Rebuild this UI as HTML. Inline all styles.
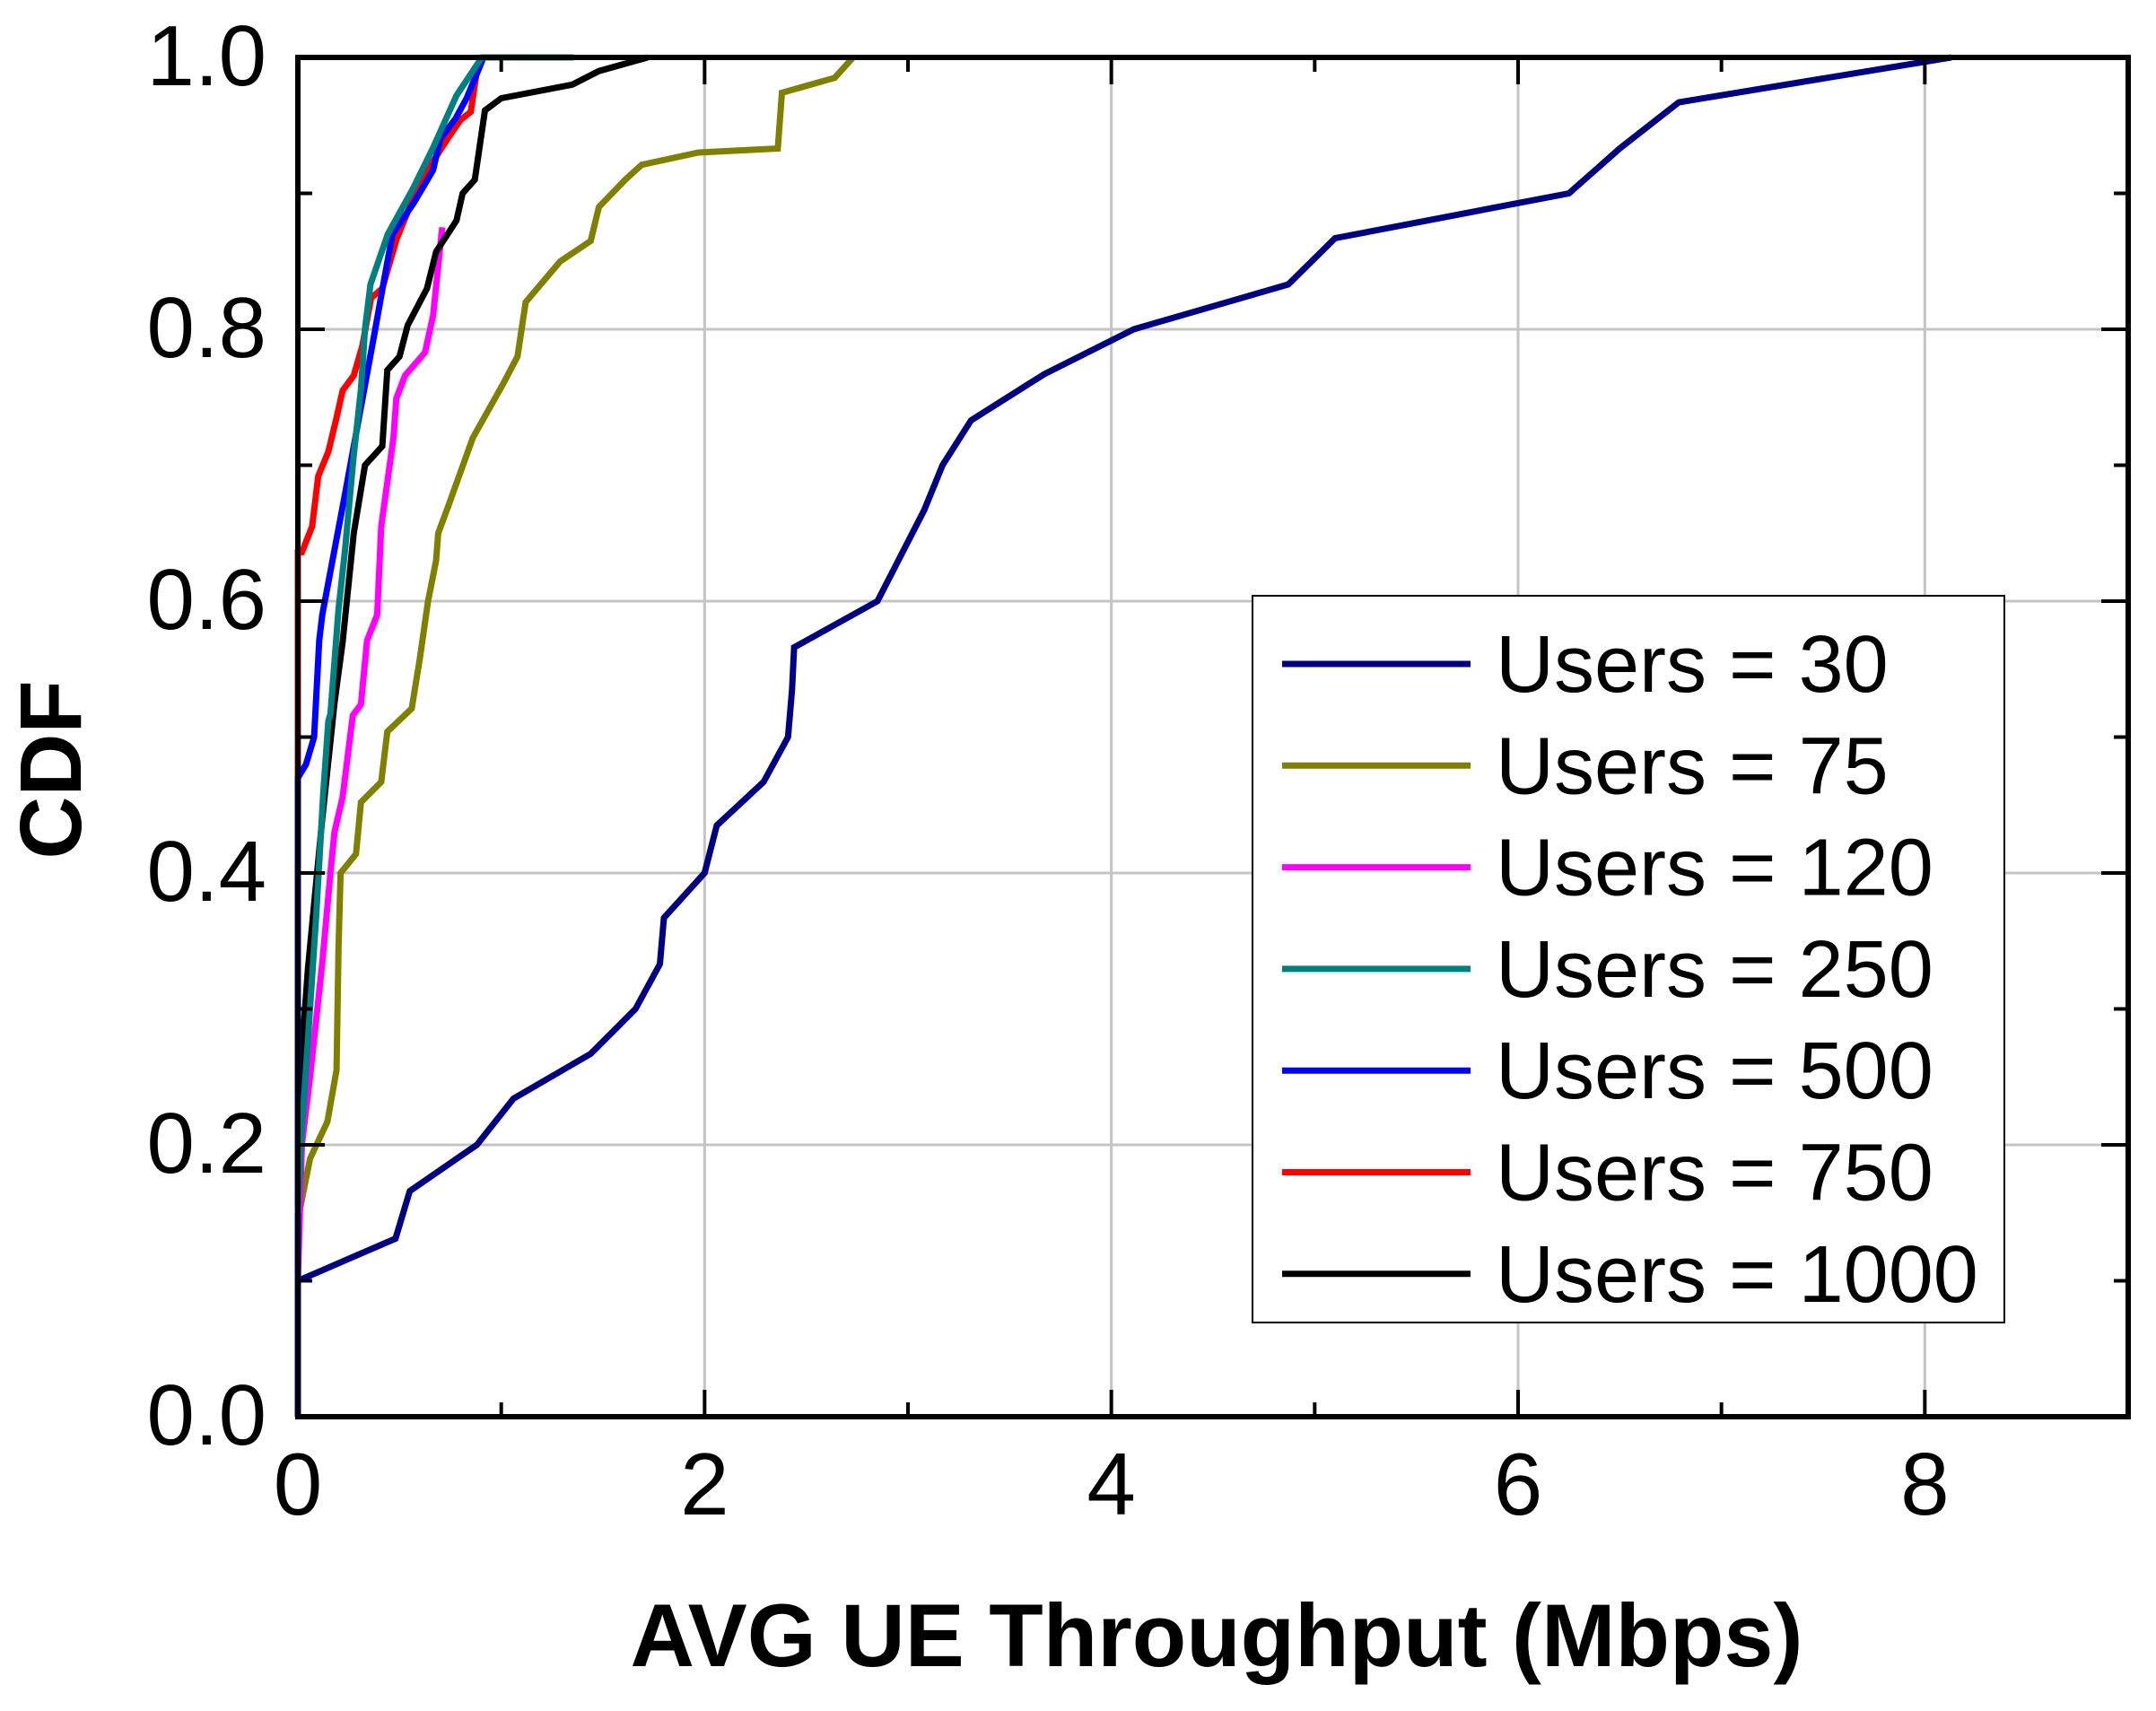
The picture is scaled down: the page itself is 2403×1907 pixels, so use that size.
<!DOCTYPE html>
<html><head><meta charset="utf-8"><style>
html,body{margin:0;padding:0;background:#fff;}
svg{display:block;}
text{font-family:"Liberation Sans",Arial,sans-serif;}
</style></head><body>
<svg id="chart" width="2403" height="1907" viewBox="0 0 2403 1907" xmlns="http://www.w3.org/2000/svg">
<rect x="0" y="0" width="2403" height="1907" fill="#fff"/>
<g id="grid"></g>
<g id="series"></g>
<g id="axes"></g>
<text x="90" y="858" font-size="97" font-weight="bold" text-anchor="middle" transform="rotate(-90 90 858)">CDF</text>
<text x="1356" y="1857" font-size="99" font-weight="bold" text-anchor="middle">AVG UE Throughput (Mbps)</text>
<g id="legend">
<rect x="1396" y="664" width="838" height="810" fill="#fff" stroke="#000" stroke-width="2"/>
</g>
</svg>
<script>
const xTicks = [0, 2, 4, 6, 8];
const xMinor = [1, 3, 5, 7];
const yTicks = [0.0, 0.2, 0.4, 0.6, 0.8, 1.0];
const yTickLabels = ["0.0", "0.2", "0.4", "0.6", "0.8", "1.0"];
const yMinor = [0.1, 0.3, 0.5, 0.7, 0.9];
const seriesNames = ["Users = 30", "Users = 75", "Users = 120", "Users = 250", "Users = 500", "Users = 750", "Users = 1000"];
const seriesColors = ["#000080", "#808000", "#ff00ff", "#008080", "#0000ff", "#ff0000", "#000000"];

const u30x = [0, 0, 0.48, 0.55, 0.88, 1.06, 1.44, 1.66, 1.78, 1.80, 2.0, 2.06, 2.29, 2.41, 2.43, 2.44, 2.85, 3.08, 3.17, 3.31, 3.67, 4.11, 4.87, 5.10, 6.25, 6.50, 6.79, 8.13];
const u30y = [0, 0.10, 0.131, 0.166, 0.20, 0.234, 0.267, 0.30, 0.333, 0.367, 0.40, 0.435, 0.467, 0.50, 0.535, 0.566, 0.60, 0.667, 0.70, 0.733, 0.767, 0.80, 0.833, 0.867, 0.90, 0.933, 0.967, 1.0];
const u75x = [0, 0.06, 0.145, 0.19, 0.20, 0.21, 0.286, 0.31, 0.41, 0.44, 0.56, 0.60, 0.64, 0.68, 0.69, 0.74, 0.86, 1.01, 1.08, 1.12, 1.29, 1.44, 1.48, 1.61, 1.69, 1.97, 2.36, 2.38, 2.64, 2.73];
const u75y = [0.145, 0.19, 0.217, 0.255, 0.345, 0.40, 0.414, 0.452, 0.467, 0.504, 0.521, 0.558, 0.60, 0.63, 0.65, 0.67, 0.72, 0.76, 0.78, 0.82, 0.85, 0.865, 0.89, 0.91, 0.921, 0.93, 0.933, 0.974, 0.985, 1.0];
const u120x = [0, 0.02, 0.06, 0.12, 0.16, 0.18, 0.22, 0.27, 0.31, 0.34, 0.39, 0.41, 0.47, 0.484, 0.527, 0.625, 0.665, 0.71];
const u120y = [0.10, 0.20, 0.25, 0.334, 0.40, 0.43, 0.456, 0.516, 0.524, 0.571, 0.59, 0.655, 0.72, 0.749, 0.766, 0.783, 0.81, 0.875];
const u250x = [0, 0.015, 0.09, 0.125, 0.15, 0.16, 0.20, 0.232, 0.274, 0.31, 0.33, 0.357, 0.442, 0.568, 0.666, 0.78, 0.905, 1.355];
const u250y = [0.15, 0.20, 0.368, 0.459, 0.512, 0.517, 0.594, 0.638, 0.706, 0.756, 0.80, 0.833, 0.87, 0.904, 0.934, 0.972, 1.0, 1.0];
const u500x = [0, 0, 0.04, 0.08, 0.105, 0.12, 0.232, 0.27, 0.372, 0.42, 0.465, 0.57, 0.665, 0.70, 0.775, 0.83, 0.905, 0.91];
const u500y = [0, 0.47, 0.48, 0.50, 0.571, 0.59, 0.679, 0.71, 0.793, 0.833, 0.87, 0.893, 0.917, 0.94, 0.955, 0.97, 0.997, 1.0];
const u750x = [0, 0, 0.02, 0.07, 0.10, 0.15, 0.19, 0.22, 0.275, 0.317, 0.36, 0.415, 0.487, 0.57, 0.65, 0.74, 0.80, 0.85, 0.88, 0.905];
const u750y = [0.45, 0.636, 0.636, 0.655, 0.692, 0.71, 0.735, 0.755, 0.766, 0.788, 0.823, 0.83, 0.867, 0.897, 0.92, 0.941, 0.954, 0.96, 0.99, 1.0];
const u1000x = [0, 0.01, 0.05, 0.12, 0.18, 0.22, 0.275, 0.33, 0.415, 0.44, 0.50, 0.54, 0.635, 0.68, 0.78, 0.81, 0.87, 0.92, 1.0, 1.35, 1.48, 1.72];
const u1000y = [0.20, 0.25, 0.33, 0.44, 0.525, 0.57, 0.65, 0.70, 0.714, 0.77, 0.78, 0.803, 0.83, 0.857, 0.88, 0.90, 0.91, 0.961, 0.97, 0.98, 0.99, 1.0];

const seriesX = [u30x, u75x, u120x, u250x, u500x, u750x, u1000x];
const seriesY = [u30y, u75y, u120y, u250y, u500y, u750y, u1000y];

const L = 332, R = 2372, T = 64, B = 1579, XMAX = 9;
function sx(v){ return L + v * (R - L) / XMAX; }
function sy(v){ return B - v * (B - T); }
const NS = "http://www.w3.org/2000/svg";
function mk(tag, attrs, parent){ const e = document.createElementNS(NS, tag); for (const k in attrs) e.setAttribute(k, attrs[k]); parent.appendChild(e); return e; }

const grid = document.getElementById('grid');
xTicks.forEach(v => { if (v > 0) {
  const g = mk('line', {x1: sx(v), x2: sx(v), y1: T, y2: B, stroke: '#c4c4c4', 'stroke-width': 3}, grid);
  
  
}});
yTicks.forEach(v => { if (v > 0 && v < 1) {
  const g = mk('line', {x1: L, x2: R, y1: sy(v), y2: sy(v), stroke: '#c4c4c4', 'stroke-width': 3}, grid);
  
  
}});

const sg = document.getElementById('series');
const order = [0, 1, 2, 6, 5, 4, 3];
order.forEach(i => {
  const pts = seriesX[i].map((x, j) => sx(x).toFixed(1) + ',' + sy(seriesY[i][j]).toFixed(1)).join(' ');
  const p = mk('polyline', {points: pts, fill: 'none', stroke: seriesColors[i], 'stroke-width': 7, 'stroke-linejoin': 'miter'}, sg);
  
  
});

const ax = document.getElementById('axes');
const frame = mk('rect', {x: L, y: T, width: R - L, height: B - T, fill: 'none', stroke: '#000', 'stroke-width': 6}, ax);


xTicks.forEach(v => {
  mk('line', {x1: sx(v), x2: sx(v), y1: B, y2: B - 30, stroke: '#000', 'stroke-width': 4}, ax);
  mk('line', {x1: sx(v), x2: sx(v), y1: T, y2: T + 30, stroke: '#000', 'stroke-width': 4}, ax);
  const t = mk('text', {x: sx(v), y: 1688, 'font-size': 98, 'text-anchor': 'middle'}, ax);
  t.textContent = String(v);
  
  
});
xMinor.forEach(v => {
  mk('line', {x1: sx(v), x2: sx(v), y1: B, y2: B - 16, stroke: '#000', 'stroke-width': 4}, ax);
  mk('line', {x1: sx(v), x2: sx(v), y1: T, y2: T + 16, stroke: '#000', 'stroke-width': 4}, ax);
});
yTicks.forEach((v, i) => {
  mk('line', {x1: L, x2: L + 30, y1: sy(v), y2: sy(v), stroke: '#000', 'stroke-width': 4}, ax);
  mk('line', {x1: R, x2: R - 30, y1: sy(v), y2: sy(v), stroke: '#000', 'stroke-width': 4}, ax);
  const t = mk('text', {x: 297, y: sy(v) + 31, 'font-size': 96, 'text-anchor': 'end'}, ax);
  t.textContent = yTickLabels[i];
  
  
});
yMinor.forEach(v => {
  mk('line', {x1: L, x2: L + 16, y1: sy(v), y2: sy(v), stroke: '#000', 'stroke-width': 4}, ax);
  mk('line', {x1: R, x2: R - 16, y1: sy(v), y2: sy(v), stroke: '#000', 'stroke-width': 4}, ax);
});

const lg = document.getElementById('legend');
seriesNames.forEach((n, i) => {
  const y = 740 + i * 113.3;
  const entry = mk('g', {}, lg);
  
  
  mk('line', {x1: 1429, x2: 1639, y1: y, y2: y, stroke: seriesColors[i], 'stroke-width': 7}, entry);
  const t = mk('text', {x: 1667, y: y + 31, 'font-size': 90}, entry);
  t.textContent = n;
});
</script>
</body></html>
